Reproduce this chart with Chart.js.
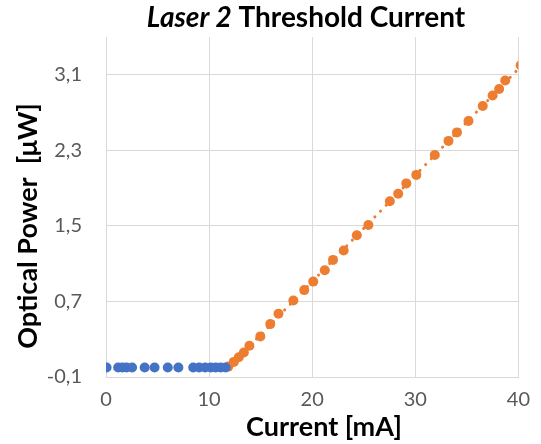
<!DOCTYPE html>
<html>
<head>
<meta charset="utf-8">
<script src="https://cdn.jsdelivr.net/npm/chart.js@4/dist/chart.umd.min.js"></script>
<style>
html,body{margin:0;padding:0;background:#fff;}
#wrap{width:541px;height:444px;position:relative;}
</style>
</head>
<body>
<div id="wrap"><canvas id="c" width="541" height="444"></canvas></div>
<script>
// Data
const belowX = [0.06, 1.18, 1.6, 1.99, 2.53, 3.75, 4.71, 5.99, 7.02, 8.46, 9.04, 9.62, 10.16, 10.64, 11.12, 11.6];
const belowY = [0, 0, 0, 0, 0, 0, 0, 0, 0, 0, 0, 0, 0, 0, 0, 0];
const aboveX = [11.86, 12.4, 12.88, 13.37, 13.91, 14.97, 15.93, 16.73, 18.17, 19.23, 20.1, 21.22, 22.02, 23.05, 24.33, 25.45, 27.53, 28.34, 29.13, 30.1, 31.89, 33.22, 34.04, 35.16, 36.54, 37.5, 38.13, 38.72, 40.22];
const aboveY = [0.01, 0.06, 0.11, 0.16, 0.23, 0.33, 0.46, 0.57, 0.71, 0.82, 0.91, 1.03, 1.14, 1.24, 1.4, 1.51, 1.76, 1.84, 1.95, 2.04, 2.25, 2.4, 2.49, 2.61, 2.77, 2.88, 2.95, 3.04, 3.2];
const xTicks = [0, 10, 20, 30, 40];
const yTicks = [-0.1, 0.7, 1.5, 2.3, 3.1];
const titleParts = ["Laser 2", " Threshold Current"];
const xTitle = "Current [mA]";
const yTitle = "Optical Power  [\u03BCW]";

// Linear trendline (least squares) of the above-threshold series
function fit(xs, ys){
  const n = xs.length;
  let sx=0, sy=0, sxx=0, sxy=0;
  for(let i=0;i<n;i++){sx+=xs[i];sy+=ys[i];sxx+=xs[i]*xs[i];sxy+=xs[i]*ys[i];}
  const m=(n*sxy-sx*sy)/(n*sxx-sx*sx);
  const b=(sy-m*sx)/n;
  return {m,b};
}
const f = fit(aboveX, aboveY);
const tx0 = Math.min(...aboveX), tx1 = Math.max(...aboveX);
const trend = [{x:tx0, y:f.m*tx0+f.b}, {x:tx1, y:f.m*tx1+f.b}];

const FONT = "Lato, 'Open Sans', sans-serif";
const BLUE = "#4472C4", ORANGE = "#ED7D31";

const textPlugin = {
  id: 'texts',
  afterDraw(chart){
    const ctx = chart.ctx;
    ctx.save();
    ctx.fillStyle = '#000';
    ctx.textBaseline = 'middle';
    // chart title with italic part
    const size = 28;
    const f1 = "italic bold " + size + "px " + FONT;
    const f2 = "bold " + size + "px " + FONT;
    ctx.font = f1; const w1 = ctx.measureText(titleParts[0]).width;
    ctx.font = f2; const w2 = ctx.measureText(titleParts[1]).width;
    let x = 306 - (w1 + w2) / 2;
    ctx.textAlign = 'left';
    ctx.font = f1; ctx.fillText(titleParts[0], x, 18);
    ctx.font = f2; ctx.fillText(titleParts[1], x + w1, 18);
    // x axis title
    ctx.textAlign = 'center';
    ctx.font = "bold 27px " + FONT;
    ctx.fillText(xTitle, 324, 427);
    // y axis title
    ctx.translate(28, 226);
    ctx.rotate(-Math.PI / 2);
    ctx.fillText(yTitle, 0, 0);
    ctx.restore();
  }
};

new Chart(document.getElementById('c'), {
  type: 'scatter',
  data: {
    datasets: [
      {
        label: 'below',
        data: belowX.map((x,i)=>({x, y: belowY[i]})),
        backgroundColor: BLUE, borderColor: BLUE,
        pointRadius: 5, pointHoverRadius: 5, borderWidth: 0
      },
      {
        label: 'above',
        data: aboveX.map((x,i)=>({x, y: aboveY[i]})),
        backgroundColor: ORANGE, borderColor: ORANGE,
        pointRadius: 5, pointHoverRadius: 5, borderWidth: 0
      },
      {
        label: 'trend',
        data: trend,
        showLine: true,
        borderColor: ORANGE,
        borderWidth: 3,
        borderDash: [0.1, 8],
        borderCapStyle: 'round',
        pointRadius: 0,
        fill: false
      }
    ]
  },
  options: {
    responsive: false,
    animation: false,
    devicePixelRatio: 1,
    layout: { padding: { top: 37, right: 19, left: 0, bottom: 0 } },
    plugins: { legend: { display: false }, tooltip: { enabled: false }, title: { display: false } },
    scales: {
      x: {
        type: 'linear', min: 0, max: 40,
        afterBuildTicks: s => { s.ticks = xTicks.map(v => ({value: v})); },
        afterFit: s => { s.height = 67; },
        grid: { color: '#D9D9D9', lineWidth: 1, drawTicks: false },
        border: { color: '#D9D9D9' },
        ticks: { color: '#595959', font: { family: FONT, size: 20 }, padding: 11, maxRotation: 0,
                 callback: v => String(v) },
        title: { display: false }
      },
      y: {
        type: 'linear', min: -0.1, max: 3.5,
        afterBuildTicks: s => { s.ticks = yTicks.map(v => ({value: v})); },
        afterFit: s => { s.width = 106; },
        grid: { color: '#D9D9D9', lineWidth: 1, drawTicks: false },
        border: { color: '#D9D9D9' },
        ticks: { color: '#595959', font: { family: FONT, size: 20 }, padding: 24,
                 callback: v => v.toFixed(1).replace('.', ',') },
        title: { display: false }
      }
    }
  },
  plugins: [textPlugin]
});
</script>
</body>
</html>
